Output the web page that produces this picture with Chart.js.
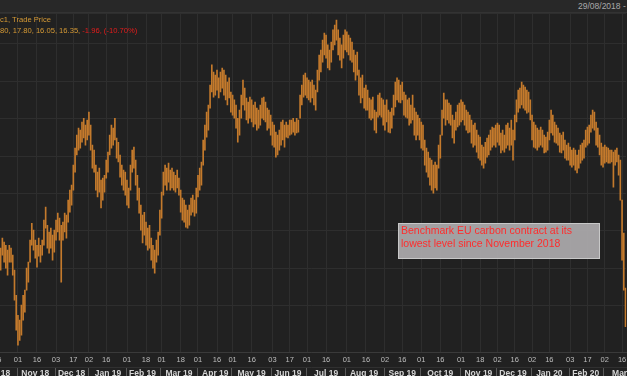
<!DOCTYPE html>
<html>
<head>
<meta charset="utf-8">
<script src="https://cdn.jsdelivr.net/npm/chart.js@4/dist/chart.umd.min.js"></script>
<style>
html, body { margin: 0; padding: 0; width: 627px; height: 376px; overflow: hidden; background: #212121; }
#c { position: absolute; left: 0; top: 0; }
.t { position: absolute; white-space: nowrap; font-family: "Liberation Sans", Arial, sans-serif; }
#hdr { position: absolute; left: 0; top: 0; width: 627px; height: 12px; background: #282828; border-bottom: 1px solid #333; }
#note { position: absolute; left: 398px; top: 223px; width: 202px; height: 36px; box-sizing: border-box;
        background: rgba(172,170,172,0.93); border: 1px solid #c8c8c8; color: #ff2d2d;
        font: 10.5px "Liberation Sans", Arial, sans-serif; line-height: 13px; padding: 0 0 0 2px; white-space: nowrap; }
</style>
</head>
<body>
<canvas id="c" width="700" height="400"></canvas>
<div id="hdr"></div>
<div class="t" style="left:578px;top:1px;font-size:8.5px;color:#a9a9a9;">29/08/2018 - 2</div>
<div class="t" style="left:0;top:15px;font-size:7.6px;color:#d69a35;">c1, Trade Price</div>
<div class="t" style="left:0;top:26px;font-size:7.6px;color:#d69a35;">80, 17.80, 16.05, 16.35, <span style="color:#e61c1c">-1.96, (-10.70%)</span></div>
<div id="note">Benchmark EU carbon contract at its<br>lowest level since November 2018</div>
<script>
// trading days shown on the chart
const startDay = '2018-10-16';
const endDay = '2020-03-18';
const holidays = ['2018-12-25', '2018-12-26', '2019-01-01', '2019-04-19', '2019-04-22',
                  '2019-12-25', '2019-12-26', '2020-01-01'];

// day tick labels (first row) and month labels (second row)
const tickDays = ['2018-10-16', '2018-11-01', '2018-11-16', '2018-12-03', '2018-12-17', '2019-01-02', '2019-01-16',
  '2019-02-01', '2019-02-18', '2019-03-01', '2019-03-18', '2019-04-01', '2019-04-16', '2019-05-01', '2019-05-16',
  '2019-06-03', '2019-06-17', '2019-07-01', '2019-07-16', '2019-08-01', '2019-08-16', '2019-09-02', '2019-09-16',
  '2019-10-01', '2019-10-16', '2019-11-01', '2019-11-18', '2019-12-02', '2019-12-16', '2020-01-02', '2020-01-16',
  '2020-02-03', '2020-02-17', '2020-03-02', '2020-03-16'];
const monthNames = ['Oct 18', 'Nov 18', 'Dec 18', 'Jan 19', 'Feb 19', 'Mar 19', 'Apr 19', 'May 19', 'Jun 19',
  'Jul 19', 'Aug 19', 'Sep 19', 'Oct 19', 'Nov 19', 'Dec 19', 'Jan 20', 'Feb 20', 'Mar 20'];
const monthAnchors = ['2018-10-16', '2018-11-15', '2018-12-14', '2019-01-17', '2019-02-14', '2019-03-15',
  '2019-04-15', '2019-05-16', '2019-06-14', '2019-07-16', '2019-08-15', '2019-09-16', '2019-10-16',
  '2019-11-15', '2019-12-13', '2020-01-16', '2020-02-14', '2020-03-18'];

// daily high / low, EUR
const highs = [
  19.75,19.98,19.62,20.07,19.89,19.75,19.53,19.75,19.62,19.30,
  18.62,17.48,16.57,16.35,17.03,17.48,17.71,18.71,18.98,19.98,
  20.75,20.44,19.98,19.75,20.07,19.75,19.98,20.89,21.48,20.66,
  20.35,20.53,20.21,20.44,20.89,21.21,20.98,20.66,20.80,21.21,
  21.12,21.80,22.25,22.48,23.39,24.16,24.75,25.07,24.98,25.35,
  25.52,25.21,25.44,25.80,25.21,24.30,24.07,23.39,23.07,23.25,
  22.71,22.80,22.93,23.62,23.98,24.75,25.21,25.07,25.52,24.62,
  24.43,23.85,23.39,23.16,23.07,22.71,22.35,23.39,24.07,24.21,
  23.62,22.93,22.35,21.57,21.12,21.25,20.80,20.53,20.66,20.07,
  19.75,19.53,19.98,20.35,21.35,22.16,23.07,23.39,23.25,23.48,
  23.16,23.25,23.07,22.93,23.16,22.80,22.25,21.89,21.80,21.57,
  21.35,21.57,21.89,22.03,21.80,22.35,22.93,23.25,23.53,24.53,
  25.21,25.80,26.12,27.03,27.94,27.62,27.48,27.71,27.35,27.62,
  27.80,27.71,27.48,27.16,27.35,26.71,26.57,26.35,26.12,25.52,
  25.89,26.57,27.25,26.89,26.44,26.25,26.48,26.35,26.12,26.25,
  25.98,25.89,26.12,26.44,26.48,26.25,25.98,25.89,25.66,25.35,
  25.21,24.89,24.75,24.98,25.35,25.44,25.21,25.35,25.21,25.44,
  25.44,25.52,25.35,25.52,25.44,26.57,27.03,27.48,27.57,27.35,
  27.25,27.16,27.25,27.03,26.80,27.71,28.39,28.62,29.07,29.39,
  29.30,28.85,28.62,28.98,29.53,29.75,29.98,29.53,29.16,28.85,
  29.30,29.53,29.44,29.30,29.16,28.98,28.62,28.39,28.53,27.71,
  27.35,27.48,26.89,27.03,26.80,26.44,26.35,26.48,25.89,25.80,
  26.57,26.66,26.44,26.35,26.12,26.35,25.89,25.80,25.98,26.57,
  27.16,27.35,27.25,27.03,27.16,26.71,26.57,26.35,26.44,26.12,
  26.57,25.98,25.80,25.66,25.52,25.35,25.21,24.53,24.16,23.98,
  23.71,23.62,23.39,23.53,23.39,24.30,24.75,25.89,26.66,26.35,
  26.35,26.21,26.12,25.66,25.44,25.80,26.12,26.21,26.35,26.25,
  26.12,25.89,25.80,25.66,25.44,25.21,25.30,24.98,24.75,24.66,
  24.30,24.21,24.43,24.62,24.75,24.98,25.12,25.07,25.21,25.30,
  25.21,24.85,24.98,24.75,25.21,25.30,25.07,25.44,24.98,25.66,
  26.35,26.80,26.89,27.16,27.03,26.94,26.80,26.71,26.35,25.66,
  25.35,25.21,25.07,24.98,25.12,24.98,24.75,24.66,24.89,25.44,
  25.89,25.66,25.35,25.21,25.07,24.85,24.75,24.89,24.53,24.30,
  24.39,24.21,24.07,24.16,24.07,23.85,24.07,24.30,24.39,24.53,
  24.98,25.12,25.21,25.66,25.89,25.80,25.35,25.07,24.75,24.39,
  24.21,24.30,24.21,24.16,24.07,24.07,23.98,24.07,24.16,23.85,
  23.62,21.80,20.30,17.80
];
const lows = [
  18.98,19.16,18.62,19.30,18.98,18.71,18.39,18.98,18.98,18.39,
  17.25,15.89,15.21,15.43,15.66,16.35,16.71,17.71,18.07,18.98,
  19.75,19.53,19.16,18.75,19.25,18.98,19.30,19.75,20.53,19.62,
  19.39,19.62,19.07,19.43,19.98,20.35,19.98,18.07,19.98,20.35,
  20.07,20.80,21.25,21.57,22.25,23.07,23.85,24.07,24.16,24.43,
  24.62,24.30,24.53,24.75,24.07,23.25,23.07,22.25,21.94,22.16,
  21.44,21.80,22.16,22.80,23.07,23.85,24.16,24.30,24.53,23.71,
  23.53,22.84,22.48,22.25,22.03,21.57,21.44,22.25,23.07,23.25,
  22.48,21.80,21.21,20.44,19.85,20.21,19.75,19.53,19.62,19.07,
  18.71,18.48,18.98,19.30,20.21,20.98,22.03,22.48,22.25,22.62,
  22.25,22.35,22.25,22.16,22.35,22.03,21.25,20.89,20.80,20.57,
  20.53,20.66,21.12,21.25,21.07,21.21,21.94,22.25,22.48,23.39,
  24.07,24.66,24.98,25.98,26.71,26.48,26.57,26.80,26.44,26.71,
  26.89,26.57,26.35,26.12,26.44,25.80,25.66,25.52,25.07,24.43,
  24.75,25.52,26.12,25.89,25.44,25.30,25.52,25.35,25.12,25.25,
  24.98,25.07,25.21,25.52,25.44,25.35,24.98,25.07,24.75,24.30,
  24.21,23.75,23.85,24.07,24.30,24.53,24.21,24.66,24.62,24.75,
  24.80,24.89,24.75,24.85,24.89,25.52,26.12,26.48,26.57,26.44,
  26.35,26.25,26.44,26.12,25.89,26.71,27.25,27.62,28.07,28.39,
  28.25,27.80,27.71,28.07,28.62,28.85,29.07,28.39,28.16,27.80,
  28.25,28.62,28.53,28.39,28.16,28.07,27.62,27.25,27.48,26.57,
  26.21,26.44,25.98,25.89,25.89,25.52,25.44,25.52,24.98,24.85,
  25.57,25.66,25.57,25.21,24.98,25.35,24.89,24.85,25.07,25.66,
  26.03,26.35,26.25,26.21,26.35,25.66,25.57,25.52,25.21,25.30,
  25.44,24.75,24.53,24.75,24.53,24.16,24.07,23.39,23.07,22.84,
  22.48,22.25,22.12,22.35,22.25,23.25,23.71,24.75,25.52,25.21,
  25.44,25.30,25.21,24.62,24.39,24.98,25.12,25.21,25.35,25.44,
  25.21,24.98,24.85,24.89,24.39,24.21,24.30,23.98,23.71,23.62,
  23.39,23.25,23.48,23.75,23.85,24.07,24.21,24.30,24.21,24.43,
  24.30,23.94,24.07,23.98,24.16,24.30,24.07,24.30,23.62,24.53,
  25.35,25.80,25.98,26.12,25.98,25.89,25.75,25.80,25.44,24.53,
  24.21,24.16,24.07,24.21,24.30,24.21,23.94,23.98,24.07,24.53,
  24.85,24.75,24.43,24.39,24.30,23.98,23.94,24.07,23.71,23.62,
  23.62,23.39,23.30,23.39,23.16,23.03,23.25,23.48,23.62,23.71,
  24.21,24.30,24.39,24.89,25.07,24.98,24.30,24.21,23.85,23.39,
  23.30,23.48,23.53,23.48,23.48,23.53,22.39,23.39,23.53,22.93,
  21.80,19.07,17.71,16.05
];

const dates = [];
for (let d = new Date(startDay + 'T00:00:00Z'); d <= new Date(endDay + 'T00:00:00Z'); d.setUTCDate(d.getUTCDate() + 1)) {
  const s = d.toISOString().slice(0, 10);
  const wd = d.getUTCDay();
  if (wd !== 0 && wd !== 6 && !holidays.includes(s)) dates.push(s);
}
const tickSet = new Set(tickDays);
const monthAt = {};
monthAnchors.forEach((a, k) => { monthAt[dates.indexOf(a)] = monthNames[k]; });
const monthStart = dates.map((s, i) => i > 0 && s.slice(5, 7) !== dates[i - 1].slice(5, 7));

const GRID = '#2e2e2e';
const NONE = 'rgba(0,0,0,0)';

const chart = new Chart('c', {
  type: 'bar',
  data: {
    labels: dates,
    datasets: [{
      data: lows.map((l, i) => [l, highs[i]]),
      backgroundColor: '#c47a2c',
      borderWidth: 0,
      barThickness: 1
    }]
  },
  options: {
    responsive: false,
    maintainAspectRatio: false,
    animation: false,
    plugins: { legend: { display: false }, tooltip: { enabled: false } },
    scales: {
      x: {
        offset: true,
        grid: { offset: false, drawTicks: false, color: c => tickSet.has(dates[c.index]) ? GRID : NONE },
        border: { color: '#3a3a3a' },
        ticks: {
          autoSkip: false, maxRotation: 0, minRotation: 0, padding: 3, color: '#bdbdbd',
          font: { family: 'Liberation Sans', size: 7.5 },
          callback: (v, i) => tickSet.has(dates[i]) ? dates[i].slice(8) : ''
        }
      },
      x2: {
        type: 'category', position: 'bottom', offset: true, weight: 1,
        grid: { offset: true, drawOnChartArea: false, tickLength: 11,
                color: c => monthStart[c.index] ? '#5a5a5a' : NONE },
        border: { color: '#303030' },
        ticks: {
          autoSkip: false, maxRotation: 0, minRotation: 0, padding: -9, color: '#d4d4d4',
          font: { family: 'Liberation Sans', size: 8.5, weight: 'bold' },
          callback: (v, i) => monthAt[i] || ''
        },
        afterFit: axis => { axis.height = 12; }
      },
      y: {
        position: 'right', min: 14.9, max: 30.3,
        ticks: { display: false, stepSize: 1.7 },
        grid: { color: GRID, drawTicks: false },
        border: { display: false }
      }
    }
  }
});

// put the plot area where it sits in the picture
const PLOT = { left: -3.6, top: 13, width: 630.1, height: 339 };
const cv = document.getElementById('c');
function place() {
  const a = chart.chartArea;
  const pl = a.left, pr = chart.width - a.right, pt = a.top, pb = chart.height - a.bottom;
  cv.style.left = (PLOT.left - pl) + 'px';
  cv.style.top = (PLOT.top - pt) + 'px';
  chart.resize(Math.round(PLOT.width + pl + pr), Math.round(PLOT.height + pt + pb));
}
place(); place(); place();
</script>
</body>
</html>
